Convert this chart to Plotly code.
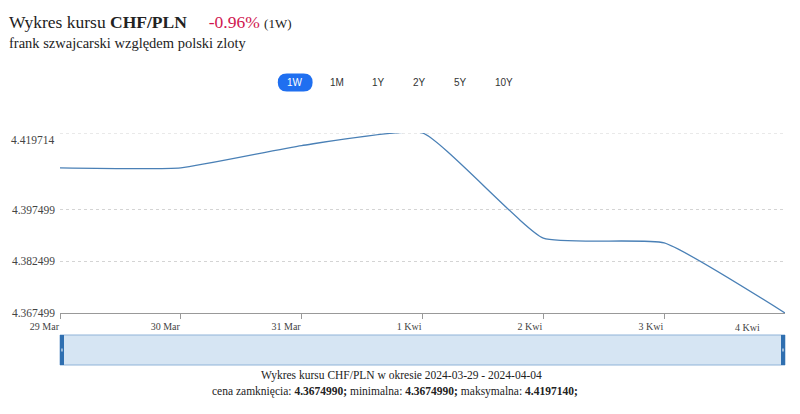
import plotly.graph_objects as go

# ---- data ----
dates = ["2024-03-29", "2024-03-30", "2024-03-31", "2024-04-01", "2024-04-02", "2024-04-03", "2024-04-04"]
x_labels = ["29 Mar", "30 Mar", "31 Mar", "1 Kwi", "2 Kwi", "3 Kwi", "4 Kwi"]
rates = [4.40961, 4.40961, 4.41607, 4.419714, 4.38922, 4.38783, 4.367499]
y_tick_vals = [4.367499, 4.382499, 4.397499, 4.419714]
y_tick_text = ["4.367499", "4.382499", "4.397499", "4.419714"]
range_buttons = ["1W", "1M", "1Y", "2Y", "5Y", "10Y"]
button_x = [292, 335, 376, 417, 459, 502]

W, H = 800, 414
ML, MR, MT, MB = 56, 15, 133, 101
PH = H - MT - MB
PW = W - ML - MR

SERIF = "Liberation Serif, Times New Roman, serif"
SANS = "Liberation Sans, Arial, sans-serif"

def px_to_py(ypix):
    return (H - MB - ypix) / PH

def px_to_px(xpix):
    return (xpix - ML) / PW

fig = go.Figure()
fig.add_trace(go.Scatter(
    x=dates, y=rates, mode="lines",
    line=dict(color="#4a80b6", width=1.3, shape="spline", smoothing=0.42),
    hoverinfo="skip", showlegend=False, cliponaxis=False,
))

shapes = []
annotations = []

# Navigator box
nav_top, nav_bot = 335, 365
shapes.append(dict(type="rect", xref="paper", yref="paper",
                   x0=0, x1=1, y0=px_to_py(nav_bot), y1=px_to_py(nav_top),
                   fillcolor="#d6e5f3", line=dict(color="#8fb3d8", width=1), layer="above"))
for xp in (0, 1):
    x0 = px_to_px(56) if xp == 0 else px_to_px(781)
    x1 = px_to_px(60) if xp == 0 else px_to_px(785)
    shapes.append(dict(type="rect", xref="paper", yref="paper",
                       x0=x0, x1=x1, y0=px_to_py(nav_bot), y1=px_to_py(nav_top),
                       fillcolor="#2f6fb0", line=dict(width=0), layer="above"))
    xm = (x0 + x1) / 2
    shapes.append(dict(type="line", xref="paper", yref="paper",
                       x0=xm, x1=xm, y0=px_to_py(351.5), y1=px_to_py(348.5),
                       line=dict(color="white", width=1), layer="above"))

# Range buttons
pill_x0, pill_x1, pill_y0, pill_y1 = 275, 310, 73.5, 91.5
r = 9
path = (f"M {px_to_px(pill_x0 + r)} {px_to_py(pill_y0)} L {px_to_px(pill_x1 - r)} {px_to_py(pill_y0)} "
        f"Q {px_to_px(pill_x1)} {px_to_py(pill_y0)} {px_to_px(pill_x1)} {px_to_py((pill_y0 + pill_y1) / 2)} "
        f"Q {px_to_px(pill_x1)} {px_to_py(pill_y1)} {px_to_px(pill_x1 - r)} {px_to_py(pill_y1)} "
        f"L {px_to_px(pill_x0 + r)} {px_to_py(pill_y1)} "
        f"Q {px_to_px(pill_x0)} {px_to_py(pill_y1)} {px_to_px(pill_x0)} {px_to_py((pill_y0 + pill_y1) / 2)} "
        f"Q {px_to_px(pill_x0)} {px_to_py(pill_y0)} {px_to_px(pill_x0 + r)} {px_to_py(pill_y0)} Z")
shapes.append(dict(type="path", xref="paper", yref="paper", path=path,
                   fillcolor="#1f6ff0", line=dict(width=0)))
for i, (lab, bx) in enumerate(zip(range_buttons, button_x)):
    annotations.append(dict(text=lab, xref="paper", yref="paper", x=px_to_px(bx), y=px_to_py(82.5),
                            xanchor="center", yanchor="middle", showarrow=False,
                            font=dict(family=SANS, size=10, color="white" if i == 0 else "#333333")))

# Top y tick label (shifted down as in the original)
annotations.append(dict(text=y_tick_text[3], xref="paper", yref="y", x=px_to_px(52), y=y_tick_vals[3],
                        xanchor="right", yanchor="middle", yshift=-7, showarrow=False,
                        font=dict(family=SERIF, size=11.5, color="#444444")))
# Last x tick label (shifted inward)
annotations.append(dict(text=x_labels[6], xref="x", yref="paper", x=dates[6], y=px_to_py(320),
                        xanchor="center", yanchor="top", xshift=-38, showarrow=False,
                        font=dict(family=SERIF, size=10, color="#444444")))

# Titles
annotations.append(dict(xref="paper", yref="paper", x=px_to_px(3), y=px_to_py(22), xanchor="left", yanchor="middle",
                        showarrow=False,
                        text="Wykres kursu <b>CHF/PLN</b>     <span style='color:#d0164f'>-0.96%</span> "
                             "<span style='font-size:13px'>(1W)</span>",
                        font=dict(family=SERIF, size=17.5, color="#222222")))
annotations.append(dict(xref="paper", yref="paper", x=px_to_px(3), y=px_to_py(43), xanchor="left", yanchor="middle",
                        showarrow=False, text="frank szwajcarski względem polski zloty",
                        font=dict(family=SERIF, size=14.5, color="#222222")))
annotations.append(dict(xref="paper", yref="paper", x=px_to_px(399), y=px_to_py(375), xanchor="center", yanchor="middle",
                        showarrow=False, text="Wykres kursu CHF/PLN w okresie 2024-03-29 - 2024-04-04",
                        font=dict(family=SERIF, size=11.5, color="#222222")))
annotations.append(dict(xref="paper", yref="paper", x=px_to_px(393), y=px_to_py(391), xanchor="center", yanchor="middle",
                        showarrow=False,
                        text=f"cena zamknięcia: <b>{rates[-1]:.7f};</b> minimalna: <b>{min(rates):.7f};</b> "
                             f"maksymalna: <b>{max(rates):.7f};</b>",
                        font=dict(family=SERIF, size=11.5, color="#222222")))

fig.update_layout(
    width=W, height=H,
    margin=dict(l=ML, r=MR, t=MT, b=MB, pad=0),
    paper_bgcolor="white", plot_bgcolor="white",
    shapes=shapes, annotations=annotations,
    xaxis=dict(type="date", range=[dates[0], dates[-1]], tickvals=dates[:6], ticktext=x_labels[:6],
               showgrid=False, showline=True, linecolor="#999999", linewidth=1,
               ticks="outside", ticklen=5, tickcolor="#999999", ticklabelposition="outside left",
               ticklabelstandoff=4,
               tickfont=dict(family=SERIF, size=10, color="#444444"), zeroline=False, fixedrange=True),
    yaxis=dict(range=[y_tick_vals[0], y_tick_vals[-1]], tickvals=y_tick_vals[:3], ticktext=y_tick_text[:3],
               showgrid=True, gridcolor="#d4d4d4", griddash="3px,3px", gridwidth=1,
               showline=False, ticks="", zeroline=False, ticklabelstandoff=4,
               tickfont=dict(family=SERIF, size=11.5, color="#444444"), fixedrange=True),
    showlegend=False,
)
# extra gridline at top value
fig.add_hline(y=y_tick_vals[3], line=dict(color="#d4d4d4", width=1, dash="3px,3px"), layer="below")

fig.write_html("out.html")
